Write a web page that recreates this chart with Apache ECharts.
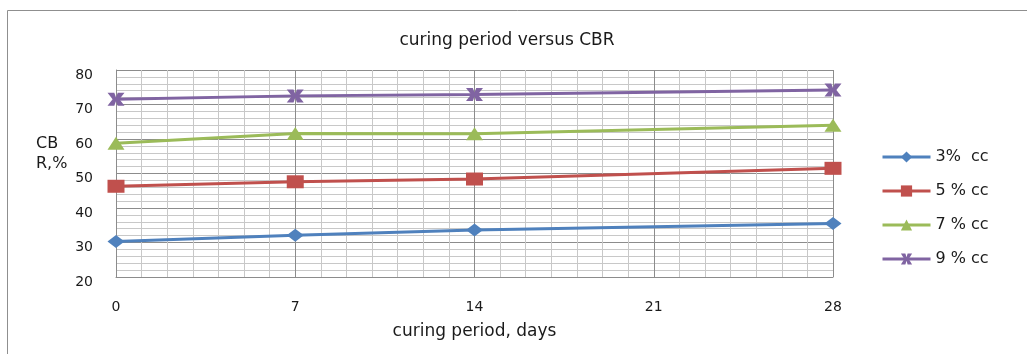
<!DOCTYPE html>
<html>
<head>
<meta charset="utf-8">
<title>curing period versus CBR</title>
<script src="https://cdn.jsdelivr.net/npm/echarts@6/dist/echarts.min.js"></script>
<style>
  html, body { margin: 0; padding: 0; background: #ffffff; }
  #chart { width: 1027px; height: 354px; }
</style>
</head>
<body>
<div id="chart"></div>
<script>
// Curing period (days) at which CBR was measured
const curingDays = [0, 7, 14, 28];
// x-axis tick labels
const dayTicks = [0, 7, 14, 21, 28];
// y-axis tick labels
const cbrTicks = [20, 30, 40, 50, 60, 70, 80];

// CBR (%) for each cement content
const cbr3 = [30.3, 32.1, 33.6, 35.5];
const cbr5 = [46.3, 47.6, 48.4, 51.5];
const cbr7 = [58.8, 61.6, 61.5, 64.0];
const cbr9 = [71.5, 72.5, 72.9, 74.2];

const seriesNames = ['3%  cc', '5 % cc', '7 % cc', '9 % cc'];
const seriesColors = ['#4F81BD', '#C0504D', '#9BBB59', '#8064A2'];

const FONT = 'DejaVu Sans';
// hourglass-style cross marker
const xMarker = 'path://M0,0 L4,0 L5,3.5 L6,0 L10,0 L7,5 L10,10 L6,10 L5,6.5 L4,10 L0,10 L3,5 Z';

function pairs(values) {
  return curingDays.map((d, i) => [d, values[i]]);
}

const seriesDefs = [
  { data: cbr3, symbol: 'diamond' },
  { data: cbr5, symbol: 'rect' },
  { data: cbr7, symbol: 'triangle' },
  { data: cbr9, symbol: xMarker }
];

const chart = echarts.init(document.getElementById('chart'), null, { renderer: 'canvas' });

chart.setOption({
  animation: false,
  backgroundColor: '#ffffff',
  color: seriesColors,
  textStyle: { fontFamily: FONT, color: '#1a1a1a' },
  title: {
    text: 'curing period versus CBR',
    left: 502,
    textAlign: 'center',
    top: 27,
    textStyle: { fontFamily: FONT, fontSize: 17, fontWeight: 'normal', color: '#1a1a1a' }
  },
  legend: {
    orient: 'vertical',
    left: 881,
    top: 149,
    padding: 0,
    itemWidth: 48,
    itemHeight: 14,
    itemGap: 18,
    lineStyle: { width: 3 },
    textStyle: { fontFamily: FONT, fontSize: 16, color: '#1a1a1a' },
    data: seriesNames
  },
  grid: { left: 116, top: 70, width: 717, height: 207, containLabel: false },
  xAxis: {
    type: 'value',
    min: dayTicks[0],
    max: dayTicks[dayTicks.length - 1],
    interval: 7,
    name: 'curing period, days',
    nameLocation: 'middle',
    nameGap: 46,
    nameTextStyle: { fontFamily: FONT, fontSize: 17, color: '#1a1a1a' },
    axisLine: { show: true, lineStyle: { color: '#8c8c8c', width: 1 } },
    axisTick: { show: false },
    axisLabel: {
      margin: 23,
      fontFamily: FONT,
      fontSize: 14,
      color: '#1a1a1a',
      formatter: v => (dayTicks.indexOf(v) >= 0 ? String(v) : '')
    },
    splitLine: { show: true, lineStyle: { color: '#8c8c8c', width: 1 } },
    minorTick: { show: false, splitNumber: 7 },
    minorSplitLine: { show: true, lineStyle: { color: '#c8c8c8', width: 1 } }
  },
  yAxis: {
    type: 'value',
    min: cbrTicks[0],
    max: cbrTicks[cbrTicks.length - 1],
    interval: 10,
    axisLine: { show: true, lineStyle: { color: '#8c8c8c', width: 1 } },
    axisTick: { show: false },
    axisLabel: {
      margin: 23,
      fontFamily: FONT,
      fontSize: 14,
      color: '#1a1a1a',
      verticalAlign: 'top',
      lineHeight: 10,
      formatter: v => (cbrTicks.indexOf(v) >= 0 ? String(v) : '')
    },
    splitLine: { show: true, lineStyle: { color: '#8c8c8c', width: 1 } },
    minorTick: { show: false, splitNumber: 5 },
    minorSplitLine: { show: true, lineStyle: { color: '#c8c8c8', width: 1 } }
  },
  graphic: [
    {
      type: 'rect',
      silent: true,
      shape: { x: 7.5, y: 10.5, width: 1100, height: 400 },
      style: { fill: 'none', stroke: '#8f8f8f', lineWidth: 1 }
    },
    {
      type: 'text',
      left: 36,
      top: 134,
      silent: true,
      style: {
        text: 'CB\nR,%',
        fontFamily: FONT,
        fontSize: 16,
        lineHeight: 20,
        fill: '#1a1a1a'
      }
    }
  ],
  series: seriesDefs.map((s, i) => ({
    name: seriesNames[i],
    type: 'line',
    data: pairs(s.data),
    symbol: s.symbol,
    symbolSize: [17, 13],
    showAllSymbol: true,
    lineStyle: { width: 3, color: seriesColors[i] },
    itemStyle: { color: seriesColors[i] },
    z: 3 + i
  }))
});
</script>
</body>
</html>
